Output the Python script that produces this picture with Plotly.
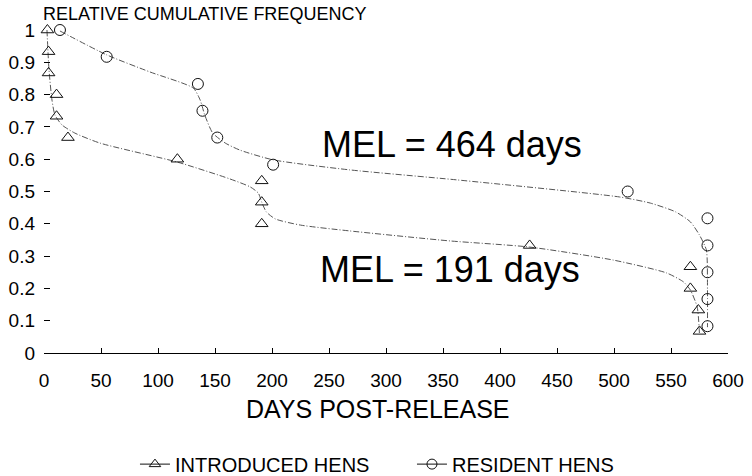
import plotly.graph_objects as go

# ---- data ----
intro_days = [3, 4, 4, 11, 11, 21, 117, 191, 191, 191, 426, 567, 567, 574, 575]
intro_freq = [1.0, 0.933, 0.867, 0.8, 0.733, 0.667, 0.6, 0.533, 0.467, 0.4, 0.333, 0.267, 0.2, 0.133, 0.067]

resid_days = [14, 55, 135, 139, 152, 201, 512, 582, 582, 582, 582, 582]
resid_freq = [1.0, 0.917, 0.833, 0.75, 0.667, 0.583, 0.5, 0.417, 0.333, 0.25, 0.167, 0.083]

# fitted curves
intro_curve_days = [2.6, 4.4, 7, 9.6, 15.8, 27, 49, 117, 163, 181, 188, 191, 195, 203, 225, 268, 356, 426, 499, 546, 561, 567, 573, 575]
intro_curve_freq = [1.0, 0.876, 0.783, 0.737, 0.706, 0.681, 0.650, 0.591, 0.539, 0.514, 0.495, 0.467, 0.437, 0.415, 0.396, 0.378, 0.347, 0.328, 0.288, 0.248, 0.220, 0.195, 0.142, 0.056]

resid_curve_days = [14, 55, 93, 131, 137, 141, 148, 159, 172, 201, 268, 362, 505, 532, 554, 567, 575, 581, 582, 582]
resid_curve_freq = [0.997, 0.923, 0.870, 0.820, 0.783, 0.737, 0.681, 0.650, 0.628, 0.598, 0.567, 0.536, 0.483, 0.464, 0.437, 0.406, 0.365, 0.319, 0.195, 0.080]

x_ticks = [0, 50, 100, 150, 200, 250, 300, 350, 400, 450, 500, 550, 600]
y_ticks = [0, 0.1, 0.2, 0.3, 0.4, 0.5, 0.6, 0.7, 0.8, 0.9, 1]
y_tick_text = ["0", "0.1", "0.2", "0.3", "0.4", "0.5", "0.6", "0.7", "0.8", "0.9", "1"]

mel_labels = ["MEL = 464 days", "MEL = 191 days"]
mel_x = [358, 356]
mel_y = [0.647, 0.26]

FONT = "Liberation Sans, Arial, sans-serif"
LINE_COL = "#555555"

fig = go.Figure()

# fitted curves (no legend)
for cx, cy in [(intro_curve_days, intro_curve_freq), (resid_curve_days, resid_curve_freq)]:
    fig.add_trace(go.Scatter(x=cx, y=cy, mode="lines",
                             line=dict(color=LINE_COL, width=1, dash="6px,2px,1px,2px", shape="spline", smoothing=0.6),
                             showlegend=False, hoverinfo="skip", cliponaxis=False))

# observed points
fig.add_trace(go.Scatter(x=intro_days, y=intro_freq, mode="markers", name="INTRODUCED HENS",
                         marker=dict(symbol="triangle-up-open", size=11, color="#111", line=dict(width=1)),
                         cliponaxis=False, showlegend=False))
fig.add_trace(go.Scatter(x=resid_days, y=resid_freq, mode="markers", name="RESIDENT HENS",
                         marker=dict(symbol="circle-open", size=11, color="#111", line=dict(width=1)),
                         cliponaxis=False, showlegend=False))

# legend entries (line + marker)
fig.add_trace(go.Scatter(x=[None], y=[None], mode="lines+markers", name="INTRODUCED HENS",
                         line=dict(color="#111", width=1),
                         marker=dict(symbol="triangle-up-open", size=10, color="#111", line=dict(width=1))))
fig.add_trace(go.Scatter(x=[None], y=[None], mode="lines+markers", name="RESIDENT HENS",
                         line=dict(color="#111", width=1),
                         marker=dict(symbol="circle-open", size=10, color="#111", line=dict(width=1))))

for txt, xx, yy in zip(mel_labels, mel_x, mel_y):
    fig.add_annotation(x=xx, y=yy, text=txt, showarrow=False,
                       font=dict(family=FONT, size=36, color="#000"), xanchor="center", yanchor="middle")

# chart title (top-left) and x-axis title
fig.add_annotation(x=0, y=1.0495, xref="paper", yref="paper", text="RELATIVE CUMULATIVE FREQUENCY",
                   showarrow=False, xanchor="left", yanchor="middle", xshift=-3,
                   font=dict(family=FONT, size=18, color="#000"))
fig.add_annotation(x=0.489, y=-0.173, xref="paper", yref="paper", text="DAYS POST-RELEASE",
                   showarrow=False, xanchor="center", yanchor="middle",
                   font=dict(family=FONT, size=25, color="#000"))

fig.update_layout(
    width=752, height=476,
    margin=dict(l=44, r=24, t=30, b=123, autoexpand=False),
    paper_bgcolor="white", plot_bgcolor="white",
    font=dict(family=FONT, color="#000"),
    legend=dict(orientation="h", x=0.133, xanchor="left", y=-0.344, yanchor="middle",
                font=dict(family=FONT, size=20, color="#000"), itemwidth=30,
                entrywidth=232, entrywidthmode="pixels",
                bgcolor="rgba(0,0,0,0)"),
    showlegend=True,
)
fig.update_xaxes(range=[0, 600], tickvals=x_ticks, ticks="inside", ticklen=5, tickcolor="#000",
                 showline=True, linecolor="#000", linewidth=1, showgrid=False, zeroline=False,
                 tickfont=dict(family=FONT, size=19, color="#000"), ticklabelstandoff=10,
                 automargin=False)
fig.update_yaxes(range=[0, 1], tickvals=y_ticks, ticktext=y_tick_text, ticks="inside", ticklen=6,
                 tickcolor="#000", showline=False, showgrid=False, zeroline=False,
                 tickfont=dict(family=FONT, size=19, color="#000"), ticklabelstandoff=8,
                 automargin=False)

# remove the browser's default 8 px page margin so the figure fills the window exactly
fig.write_html("out.html", config={"displayModeBar": False},
               post_script="document.body.style.margin='0';")
